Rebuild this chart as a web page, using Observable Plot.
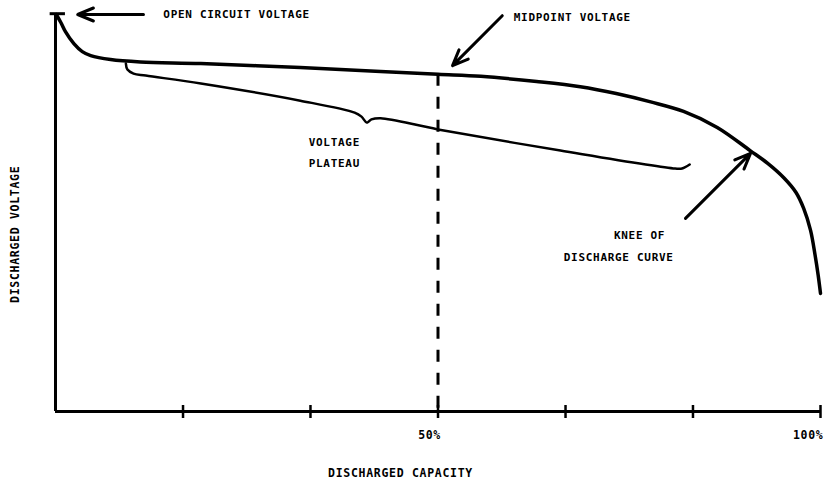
<!DOCTYPE html>
<html>
<head>
<meta charset="utf-8">
<script src="https://cdn.jsdelivr.net/npm/d3@7"></script>
<script src="https://cdn.jsdelivr.net/npm/@observablehq/plot@0.6"></script>
<style>
  html, body { margin: 0; padding: 0; background: #fff; }
  svg text { letter-spacing: 0.7px; }
</style>
</head>
<body>
<div id="chart"></div>
<script>
// Discharge curve (capacity in %, voltage in relative units, 0..100)
const capacity = [0.1, 0.7, 1.3, 2.4, 3.5, 4.6, 7.2, 11.1, 19.0, 32.0, 42.5, 50.0, 55.6, 62.9, 68.6, 73.3, 77.8, 82.1, 86.5, 90.8, 93.1, 95.2, 96.8, 97.8, 98.7, 99.3, 99.7, 100];
const voltage  = [99.5, 97.5, 95.2, 92.2, 90.2, 89.2, 88.2, 87.6, 87.2, 86.2, 85.2, 84.5, 84.0, 82.7, 81.4, 79.7, 77.6, 75.2, 71.2, 65.4, 62.2, 58.6, 54.9, 50.9, 45.4, 39.1, 34.1, 29.6];

// "Voltage plateau" brace
const plateauCapacity = [9.2, 9.4, 10.2, 11.8, 19.0, 32.0, 39.1, 40.0, 40.7, 41.3, 42.5, 50.0, 66.0, 81.0, 81.9, 82.9];
const plateauVoltage  = [87.2, 85.7, 84.7, 84.2, 82.2, 77.9, 74.9, 73.9, 72.4, 73.2, 73.5, 70.7, 65.4, 60.9, 60.9, 61.9];

// Key values
const openCircuitVoltage = 99.7;
const midpointCapacity = 50;
const midpointVoltage = 84.5;

// Axis ticks
const tickValues = [16.67, 33.33, 50, 66.67, 83.33, 100];
const tickLabelValues = [50, 100];
const tickLabels = ["50%", "100%"];

// Annotation labels
const labelText     = ["OPEN CIRCUIT VOLTAGE", "MIDPOINT VOLTAGE", "VOLTAGE", "PLATEAU", "KNEE OF", "DISCHARGE CURVE"];
const labelCapacity = [14.1, 59.9, 33.1, 33.1, 79.7, 80.8];
const labelVoltage  = [99.5, 98.7, 67.4, 62.2, 44.1, 38.6];
const labelAnchor   = ["start", "start", "start", "start", "end", "end"];

// Annotation arrows (tail -> head)
const arrowFromCapacity = [11.5, 58.4, 82.35];
const arrowFromVoltage  = [99.5, 99.2, 48.4];
const arrowToCapacity   = [2.9, 51.9, 90.85];
const arrowToVoltage    = [99.5, 86.7, 64.7];

// Axis titles
const xTitle = "DISCHARGED CAPACITY";
const yTitle = "DISCHARGED VOLTAGE";

const curve = capacity.map((c, i) => ({c, v: voltage[i]}));
const plateau = plateauCapacity.map((c, i) => ({c, v: plateauVoltage[i]}));
const labels = labelText.map((t, i) => ({t, c: labelCapacity[i], v: labelVoltage[i], a: labelAnchor[i]}));
const arrows = arrowFromCapacity.map((c, i) => ({c1: c, v1: arrowFromVoltage[i], c2: arrowToCapacity[i], v2: arrowToVoltage[i]}));

const font = "DejaVu Sans Mono";
const textOpts = {fontFamily: font, fontWeight: "bold", fontSize: 11.5, fill: "black"};

const chart = Plot.plot({
  width: 826,
  height: 482,
  marginLeft: 55,
  marginRight: 6,
  marginTop: 12,
  marginBottom: 71,
  style: {fontFamily: font, fontSize: "11.5px", background: "white", color: "black"},
  x: {domain: [0, 100], axis: null},
  y: {domain: [0, 100], axis: null},
  marks: [
    // axes lines
    Plot.ruleX([0], {y1: 0, y2: openCircuitVoltage, stroke: "black", strokeWidth: 3}),
    Plot.ruleY([0], {x1: 0, x2: 100, stroke: "black", strokeWidth: 3}),
    Plot.ruleY([openCircuitVoltage], {x1: -0.7, x2: 1.3, stroke: "black", strokeWidth: 3}),
    // tick marks crossing the x axis
    Plot.ruleX(tickValues, {y1: -1.75, y2: 1.5, stroke: "black", strokeWidth: 2.5}),
    // tick labels
    Plot.text(tickLabelValues, {x: d => d, y: -6, text: (d, i) => tickLabels[i], textAnchor: "end", dx: 3, ...textOpts}),
    // midpoint dashed line
    Plot.ruleX([midpointCapacity], {y1: midpointVoltage, y2: 0, stroke: "black", strokeWidth: 3, strokeDasharray: "12,11"}),
    // discharge curve
    Plot.line(curve, {x: "c", y: "v", curve: "catmull-rom", stroke: "black", strokeWidth: 3.5, strokeLinecap: "round", strokeLinejoin: "round"}),
    // plateau brace
    Plot.line(plateau, {x: "c", y: "v", curve: "catmull-rom", stroke: "black", strokeWidth: 2.5, strokeLinecap: "round", strokeLinejoin: "round"}),
    // arrows
    Plot.arrow(arrows, {x1: "c1", y1: "v1", x2: "c2", y2: "v2", stroke: "black", strokeWidth: 3, headLength: 8.5, headAngle: 45}),
    // annotation text
    Plot.text(labels.filter(d => d.a === "start"), {x: "c", y: "v", text: "t", textAnchor: "start", ...textOpts, fontSize: 11}),
    Plot.text(labels.filter(d => d.a === "end"), {x: "c", y: "v", text: "t", textAnchor: "end", ...textOpts, fontSize: 11}),
    // axis titles
    Plot.text([xTitle], {x: 45.1, y: -15.5, text: d => d, ...textOpts}),
    Plot.text([yTitle], {x: -5.2, y: 44.4, text: d => d, rotate: -90, ...textOpts})
  ]
});
document.getElementById("chart").appendChild(chart);
</script>
</body>
</html>
